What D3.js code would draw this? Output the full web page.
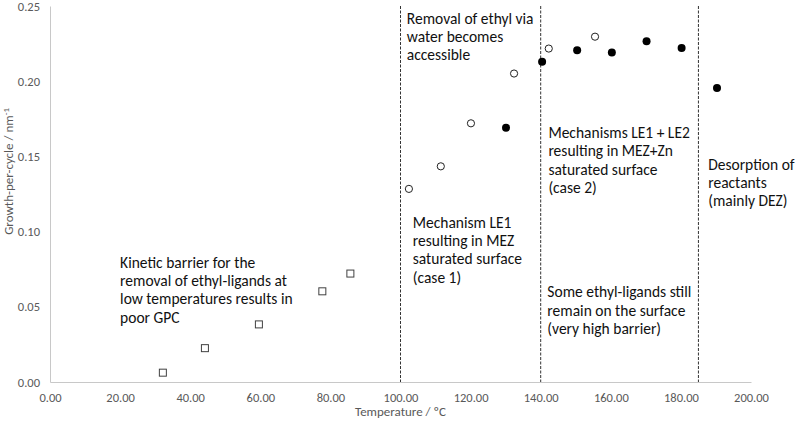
<!DOCTYPE html>
<html>
<head>
<meta charset="utf-8">
<script src="https://cdn.jsdelivr.net/npm/d3@7"></script>
<style>
  body { margin: 0; background: #fff; }
  text { font-family: Carlito, Lato, "Open Sans", sans-serif; }
</style>
</head>
<body>
<div class="chart"></div>
<script>
// data
var squareX = [32.2, 44.2, 59.6, 77.7, 85.7];
var squareY = [0.0062, 0.0225, 0.0383, 0.0603, 0.0721];

var openX = [102.4, 111.5, 120.1, 132.4, 142.3, 155.5];
var openY = [0.1284, 0.1434, 0.1720, 0.2051, 0.2217, 0.2296];

var filledX = [130.1, 140.4, 150.4, 160.3, 170.2, 180.2, 190.3];
var filledY = [0.1691, 0.2129, 0.2206, 0.2190, 0.2266, 0.2220, 0.1954];

var dividers = [100, 140, 185];

var xTicks = [0, 20, 40, 60, 80, 100, 120, 140, 160, 180, 200];
var yTicks = [0, 0.05, 0.10, 0.15, 0.20, 0.25];

// annotation blocks: anchor in data units, one entry per line
var noteX = [20, 101.8, 103.5, 142.2, 141.9, 187.8];
var noteY = [0.076, 0.2383, 0.1026, 0.1623, 0.0562, 0.1412];
var noteLines = [
  ['Kinetic barrier for the', 'removal of ethyl-ligands at', 'low temperatures results in', 'poor GPC'],
  ['Removal of ethyl via', 'water becomes', 'accessible'],
  ['Mechanism LE1', 'resulting in MEZ', 'saturated surface', '(case 1)'],
  ['Mechanisms LE1 + LE2', 'resulting in MEZ+Zn', 'saturated surface', '(case 2)'],
  ['Some ethyl-ligands still', 'remain on the surface', '(very high barrier)'],
  ['Desorption of', 'reactants', '(mainly DEZ)']
];

// chart size
var svgWidth = 796;
var svgHeight = 422;
var margin = { top: 6, right: 45, bottom: 40, left: 50 };
var width = svgWidth - margin.left - margin.right;
var height = svgHeight - margin.top - margin.bottom;

var svg = d3.select('.chart')
  .append('svg')
  .attr('width', svgWidth)
  .attr('height', svgHeight);

var chart = svg.append('g')
  .attr('transform', `translate(${margin.left}, ${margin.top})`);

var x = d3.scaleLinear().domain([0, 200]).range([0, width]);
var y = d3.scaleLinear().domain([0, 0.25]).range([height, 0]);

// axes
var xAxis = chart.append('g')
  .attr('transform', `translate(0, ${height})`)
  .call(d3.axisBottom(x).tickValues(xTicks).tickSize(0).tickPadding(11)
    .tickFormat(d3.format('.2f')));

var yAxis = chart.append('g')
  .call(d3.axisLeft(y).tickValues(yTicks).tickSize(0).tickPadding(10)
    .tickFormat(d3.format('.2f')));

[xAxis, yAxis].forEach(function(ax) {
  ax.select('.domain').attr('stroke', '#c8c8c8').attr('stroke-width', 1);
  ax.selectAll('text')
    .attr('fill', '#595959')
    .style('font-size', '12.5px')
    .style('font-family', 'Carlito, Lato, "Open Sans", sans-serif');
});

// dashed dividers
chart.selectAll('line.divider')
  .data(dividers)
  .enter()
  .append('line')
  .attr('class', 'divider')
  .attr('x1', function(d) { return x(d); })
  .attr('x2', function(d) { return x(d); })
  .attr('y1', y(0.25))
  .attr('y2', y(0))
  .attr('stroke', '#333')
  .attr('stroke-width', 1)
  .attr('stroke-dasharray', '3,1.5');

// open squares
chart.selectAll('rect.sq')
  .data(squareX)
  .enter()
  .append('rect')
  .attr('class', 'sq')
  .attr('x', function(d) { return x(d) - 3.5; })
  .attr('y', function(d, i) { return y(squareY[i]) - 3.5; })
  .attr('width', 7)
  .attr('height', 7)
  .attr('fill', '#fff')
  .attr('stroke', '#404040')
  .attr('stroke-width', 1);

// open circles
chart.selectAll('circle.open')
  .data(openX)
  .enter()
  .append('circle')
  .attr('class', 'open')
  .attr('cx', function(d) { return x(d); })
  .attr('cy', function(d, i) { return y(openY[i]); })
  .attr('r', 3.6)
  .attr('fill', '#fff')
  .attr('stroke', '#222')
  .attr('stroke-width', 1);

// filled circles
chart.selectAll('circle.filled')
  .data(filledX)
  .enter()
  .append('circle')
  .attr('class', 'filled')
  .attr('cx', function(d) { return x(d); })
  .attr('cy', function(d, i) { return y(filledY[i]); })
  .attr('r', 4)
  .attr('fill', '#000');

// annotations
noteLines.forEach(function(lines, k) {
  var t = chart.append('text')
    .attr('x', x(noteX[k]))
    .attr('y', y(noteY[k]))
    .attr('fill', '#111')
    .style('font-size', '15.5px');
  t.selectAll('tspan')
    .data(lines)
    .enter()
    .append('tspan')
    .attr('x', x(noteX[k]))
    .attr('dy', function(d, i) { return i === 0 ? 0 : 18.4; })
    .text(function(d) { return d; });
});

// axis titles
chart.append('text')
  .attr('transform', 'rotate(-90)')
  .attr('x', -y(0.14))
  .attr('y', -42)
  .attr('dy', '0.35em')
  .attr('text-anchor', 'middle')
  .attr('fill', '#595959')
  .style('font-size', '13px')
  .text('Growth-per-cycle / nm')
  .append('tspan')
  .attr('dy', '-0.45em')
  .style('font-size', '9px')
  .text('-1');

chart.append('text')
  .attr('x', x(100))
  .attr('y', height + 34)
  .attr('text-anchor', 'middle')
  .attr('fill', '#595959')
  .style('font-size', '13px')
  .text('Temperature / ºC');
</script>
</body>
</html>
